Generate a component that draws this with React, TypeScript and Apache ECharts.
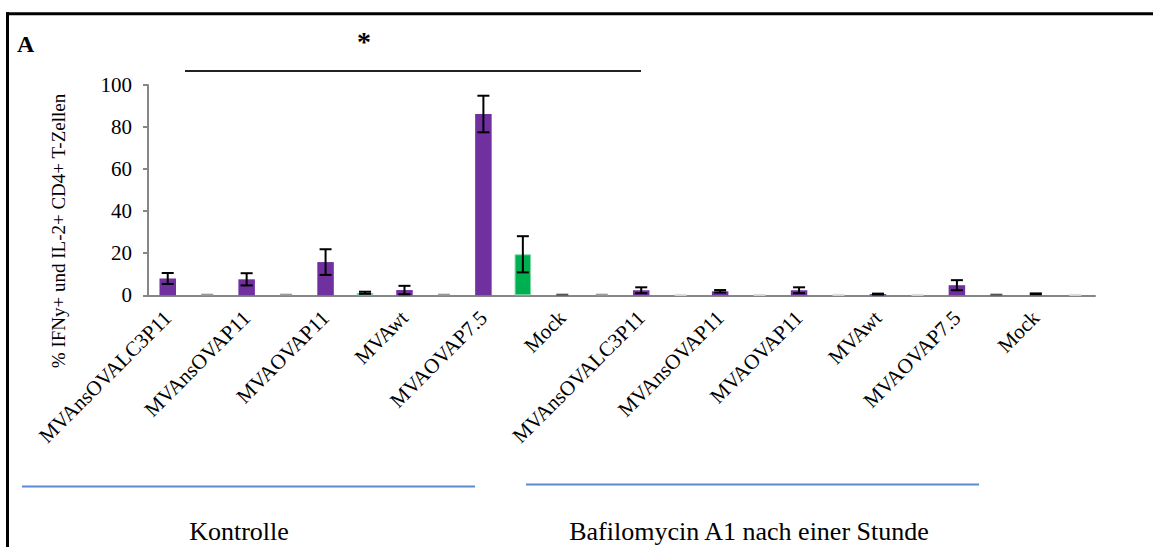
import React, { useEffect, useRef } from "react";
import * as echarts from "echarts";

// ---------- data ----------
const categories = [
  "MVAnsOVALC3P11", "", "MVAnsOVAP11", "", "MVAOVAP11", "", "MVAwt", "", "MVAOVAP7.5", "", "Mock", "",
  "MVAnsOVALC3P11", "", "MVAnsOVAP11", "", "MVAOVAP11", "", "MVAwt", "", "MVAOVAP7.5", "", "Mock", "",
];
const values = [8.0, 0.3, 7.6, 0.3, 15.8, 1.2, 2.5, 0.3, 86.2, 19.5, 0.3, 0.3,
  2.4, 0.2, 1.9, 0.2, 2.4, 0.2, 0.6, 0.2, 4.8, 0.3, 0.7, 0.2];
const errors = [2.6, 0, 2.9, 0, 6.1, 0.5, 2.0, 0, 8.7, 8.6, 0, 0,
  1.4, 0, 0.6, 0, 1.4, 0, 0.2, 0, 2.4, 0, 0.2, 0];
// P = purple bar, G = green bar, N = near-zero (grey), D = dark, L = light, K = black
const kinds = ["P", "N", "P", "N", "P", "G", "P", "N", "P", "G", "D", "N",
  "P", "L", "P", "L", "P", "L", "P", "L", "P", "D", "K", "L"];
const yTicks = { min: 0, max: 100, interval: 20 };
const yTitle = "% IFNy+ und IL-2+ CD4+ T-Zellen";
const groupLabels = ["Kontrolle", "Bafilomycin A1 nach einer Stunde"];
const panelLabel = "A";
const significance = "*";

// ---------- style ----------
const FONT = "Liberation Serif";
const KIND_COLOR: Record<string, string> = {
  P: "#7030A0", G: "#00B050", N: "#9a9a9a", D: "#555555", L: "#dddddd", K: "#000000",
};
const AXIS_COLOR = "#868686";

export default function App() {
  const ref = useRef<HTMLDivElement>(null);
  useEffect(() => {
    if (!ref.current) return;
    document.body.style.margin = "0";
    document.body.style.overflow = "hidden";
    const chart = echarts.init(ref.current, null, { renderer: "svg" });
    const barData = values.map((v, i) => {
      const k = kinds[i];
      const isBar = k === "P" || k === "G";
      return {
        value: v,
        itemStyle: {
          color: isBar ? KIND_COLOR[k] : "rgba(0,0,0,0)",
          borderColor: k === "G" ? "#7fd8a4" : "rgba(0,0,0,0)",
          borderWidth: k === "G" ? 1 : 0,
        },
      };
    });
    const errData = values.map((v, i) => [i, v, errors[i]]);
    chart.setOption({
      animation: false,
      textStyle: { fontFamily: FONT },
      grid: { left: 148, right: 58, top: 85, bottom: 251.7, containLabel: false },
      xAxis: {
        type: "category",
        data: categories,
        axisLine: { lineStyle: { color: AXIS_COLOR, width: 2 } },
        axisTick: { interval: 0, length: 6, lineStyle: { color: AXIS_COLOR, width: 2 } },
        axisLabel: {
          interval: 1,
          rotate: 45,
          margin: 19,
          fontSize: 21,
          fontFamily: FONT,
          color: "#000",
        },
      },
      yAxis: {
        type: "value",
        min: yTicks.min,
        max: yTicks.max,
        interval: yTicks.interval,
        axisLine: { show: true, lineStyle: { color: AXIS_COLOR, width: 2 } },
        axisTick: { show: true, length: 5, lineStyle: { color: AXIS_COLOR, width: 2 } },
        splitLine: { show: false },
        axisLabel: { margin: 16, fontSize: 21, fontFamily: FONT, color: "#000" },
      },
      series: [
        {
          type: "bar",
          data: barData,
          barWidth: 16.5,
        },
        {
          type: "custom",
          data: errData,
          z: 5,
          renderItem: (params: any, api: any) => {
            const i = api.value(0);
            const v = api.value(1);
            const e = api.value(2);
            const k = kinds[params.dataIndex];
            const color = k === "P" || k === "G" ? "#000" : KIND_COLOR[k];
            const top = api.coord([i, v + e]);
            const bot = api.coord([i, v - e]);
            const half = 6;
            const style = { stroke: color, lineWidth: 2 };
            if (e === 0) {
              const p = api.coord([i, v]);
              return {
                type: "line",
                shape: { x1: p[0] - half, y1: p[1], x2: p[0] + half, y2: p[1] },
                style,
              };
            }
            return {
              type: "group",
              children: [
                { type: "line", shape: { x1: top[0], y1: top[1], x2: bot[0], y2: bot[1] }, style },
                { type: "line", shape: { x1: top[0] - half, y1: top[1], x2: top[0] + half, y2: top[1] }, style },
                { type: "line", shape: { x1: bot[0] - half, y1: bot[1], x2: bot[0] + half, y2: bot[1] }, style },
              ],
            };
          },
        },
      ],
      graphic: [
        {
          type: "line",
          shape: { x1: 7.5, y1: 12.3, x2: 7.5, y2: 547 },
          style: { stroke: "#000", lineWidth: 3 },
          silent: true,
        },
        {
          type: "line",
          shape: { x1: 6, y1: 13.8, x2: 1153, y2: 13.8 },
          style: { stroke: "#000", lineWidth: 3 },
          silent: true,
        },
        {
          type: "text",
          x: 17,
          y: 56,
          style: { text: panelLabel, fontSize: 24, fontWeight: "bold", fontFamily: FONT, fill: "#000", textVerticalAlign: "bottom" },
        },
        {
          type: "text",
          x: 364,
          y: 41,
          style: { text: significance, fontSize: 28, fontWeight: "bold", fontFamily: FONT, fill: "#000", textAlign: "center", textVerticalAlign: "middle" },
        },
        {
          type: "line",
          shape: { x1: 185, y1: 71, x2: 641, y2: 71 },
          style: { stroke: "#222", lineWidth: 2 },
        },
        {
          type: "text",
          x: 58,
          y: 231,
          rotation: Math.PI / 2,
          style: { text: yTitle, fontSize: 19, fontFamily: FONT, fill: "#000", textAlign: "center", textVerticalAlign: "middle" },
        },
        {
          type: "line",
          shape: { x1: 22, y1: 486.5, x2: 475, y2: 486.5 },
          style: { stroke: "#5B8BD0", lineWidth: 2 },
        },
        {
          type: "line",
          shape: { x1: 526, y1: 484.5, x2: 979, y2: 484.5 },
          style: { stroke: "#5B8BD0", lineWidth: 2 },
        },
        {
          type: "text",
          x: 239,
          y: 531,
          style: { text: groupLabels[0], fontSize: 26, fontFamily: FONT, fill: "#000", textAlign: "center", textVerticalAlign: "middle" },
        },
        {
          type: "text",
          x: 749,
          y: 531,
          style: { text: groupLabels[1], fontSize: 26, fontFamily: FONT, fill: "#000", textAlign: "center", textVerticalAlign: "middle" },
        },
      ],
    });
    return () => chart.dispose();
  }, []);
  return (
    <div
      ref={ref}
      style={{ position: "absolute", left: 0, top: 0, width: 1153, height: 547, background: "#fff", overflow: "hidden" }}
    />
  );
}
